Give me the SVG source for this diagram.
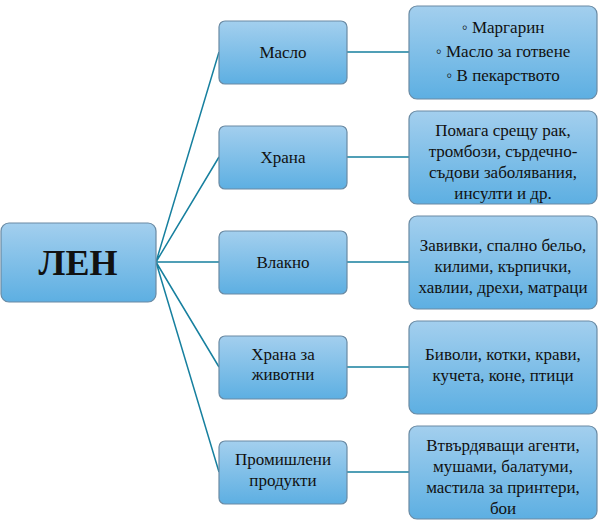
<svg xmlns="http://www.w3.org/2000/svg" width="600" height="524" viewBox="0 0 600 524">
<defs>
<linearGradient id="g" x1="0" y1="0" x2="0" y2="1">
<stop offset="0" stop-color="#a3cfee"/>
<stop offset="1" stop-color="#5dafe2"/>
</linearGradient>
</defs>
<style>
.b{fill:url(#g);stroke:#6a8aa3;stroke-width:1.2}
.t{font-family:"Liberation Serif",serif;font-size:17px;fill:#111;text-anchor:middle}
.c{stroke:#17809f;stroke-width:1.5;fill:none}
</style>
<rect width="600" height="524" fill="#fff"/>
<g id="connectors" class="c">
<path d="M156 262L219 52M156 262L219 157M156 262H219M156 262L219 367M156 262L219 472"/>
<path d="M347 52H409M347 157H409M347 262H409M347 367H409M347 472H409"/>
</g>
<g id="root"><rect class="b" x="1" y="223" width="155" height="79" rx="8"/><text class="t" x="78" y="275" style="font-size:36px;font-weight:bold">ЛЕН</text></g>
<g id="n1"><rect class="b" x="219" y="21" width="128" height="63" rx="6"/><text class="t" x="283" y="58">Масло</text></g>
<g id="n2"><rect class="b" x="219" y="126" width="128" height="63" rx="6"/><text class="t" x="283" y="163">Храна</text></g>
<g id="n3"><rect class="b" x="219" y="231" width="128" height="63" rx="6"/><text class="t" x="283" y="268">Влакно</text></g>
<g id="n4"><rect class="b" x="219" y="336" width="128" height="63" rx="6"/><text class="t" x="283" y="360">Храна за</text><text class="t" x="283" y="380">животни</text></g>
<g id="n5"><rect class="b" x="219" y="441" width="128" height="63" rx="6"/><text class="t" x="283" y="465">Промишлени</text><text class="t" x="283" y="486">продукти</text></g>
<g id="r1"><rect class="b" x="409" y="6" width="188" height="93" rx="8"/><text class="t" x="503" y="33">◦ Маргарин</text><text class="t" x="503" y="57">◦ Масло за готвене</text><text class="t" x="503" y="81">◦ В пекарството</text></g>
<g id="r2"><rect class="b" x="409" y="111" width="188" height="93" rx="8"/><text class="t" x="503" y="136">Помага срещу рак,</text><text class="t" x="503" y="157">тромбози, сърдечно-</text><text class="t" x="503" y="178">съдови заболявания,</text><text class="t" x="503" y="199">инсулти и др.</text></g>
<g id="r3"><rect class="b" x="409" y="216" width="188" height="93" rx="8"/><text class="t" x="503" y="251">Завивки, спално бельо,</text><text class="t" x="503" y="272">килими, кърпички,</text><text class="t" x="503" y="293">хавлии, дрехи, матраци</text></g>
<g id="r4"><rect class="b" x="409" y="321" width="188" height="93" rx="8"/><text class="t" x="503" y="360">Биволи, котки, крави,</text><text class="t" x="503" y="381">кучета, коне, птици</text></g>
<g id="r5"><rect class="b" x="409" y="426" width="188" height="93" rx="8"/><text class="t" x="503" y="451">Втвърдяващи агенти,</text><text class="t" x="503" y="472">мушами, балатуми,</text><text class="t" x="503" y="493">мастила за принтери,</text><text class="t" x="503" y="514">бои</text></g>
</svg>
